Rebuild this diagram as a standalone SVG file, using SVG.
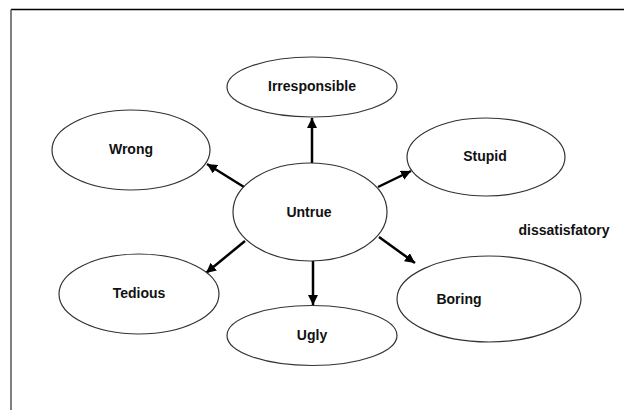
<svg xmlns="http://www.w3.org/2000/svg" width="624" height="410" viewBox="0 0 624 410">
<style>
.node ellipse{fill:#fff;stroke:#333;stroke-width:1.2}
.node text,.label{font-family:"Liberation Sans",Arial,sans-serif;font-weight:bold;font-size:14px;fill:#111;text-anchor:middle;dominant-baseline:central}
.conn line{stroke:#000;stroke-width:2.5;marker-end:url(#ah)}
</style>
<defs>
<marker id="ah" markerUnits="userSpaceOnUse" markerWidth="12" markerHeight="10" refX="10" refY="5" orient="auto">
<path d="M0,0 L10,5 L0,10 Z" fill="#000"/>
</marker>
</defs>
<rect width="624" height="410" fill="#fff"/>
<line x1="11" y1="9.5" x2="624" y2="9.5" stroke="#000" stroke-width="1.5"/>
<line x1="11" y1="9.5" x2="11" y2="410" stroke="#555" stroke-width="1.5"/>
<g class="conn">
<line x1="312" y1="163" x2="312" y2="118"/>
<line x1="244" y1="187" x2="207" y2="164"/>
<line x1="378" y1="187" x2="411" y2="171"/>
<line x1="245" y1="241" x2="206" y2="273"/>
<line x1="379" y1="237" x2="415" y2="263"/>
<line x1="313" y1="261" x2="313" y2="305"/>
</g>
<g id="irresponsible" class="node"><ellipse cx="312" cy="87" rx="85" ry="30"/><text x="312" y="86">Irresponsible</text></g>
<g id="wrong" class="node"><ellipse cx="131" cy="150" rx="79" ry="40"/><text x="131" y="149">Wrong</text></g>
<g id="stupid" class="node"><ellipse cx="486" cy="157" rx="79" ry="39"/><text x="485" y="156">Stupid</text></g>
<g id="untrue" class="node"><ellipse cx="310" cy="212" rx="77" ry="49"/><text x="309" y="212">Untrue</text></g>
<g id="tedious" class="node"><ellipse cx="139" cy="294" rx="80" ry="40"/><text x="139" y="293">Tedious</text></g>
<g id="boring" class="node"><ellipse cx="489" cy="299" rx="92" ry="43"/><text x="459" y="299">Boring</text></g>
<g id="ugly" class="node"><ellipse cx="312" cy="335.5" rx="85" ry="30"/><text x="312" y="335">Ugly</text></g>
<text class="label" x="564" y="230">dissatisfatory</text>
</svg>
